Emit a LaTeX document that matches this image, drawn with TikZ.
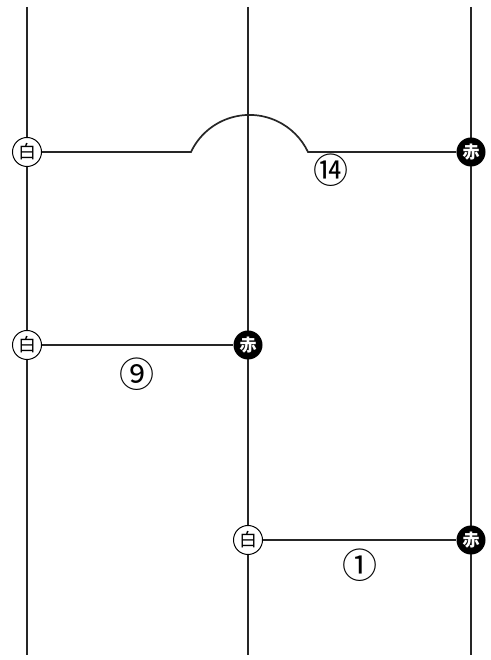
\documentclass[tikz,border=0pt]{standalone}
\usepackage{fontspec}
\newfontfamily\cjk{Noto Sans CJK JP}
\usetikzlibrary{calc}
\tikzset{
  wire/.style={line width=1.7pt,black!85},
  shiro/.style={circle,draw=black,line width=1pt,fill=white,inner sep=0pt,
    minimum size=29pt,font=\cjk\fontsize{18}{18}\selectfont},
  aka/.style={circle,fill=black,text=white,inner sep=0pt,
    minimum size=29pt,font=\cjk\bfseries\fontsize{17}{17}\selectfont},
  bango/.style={font=\cjk\fontsize{35}{35}\selectfont,inner sep=0pt}
}
\begin{document}
\begin{tikzpicture}[x=1pt,y=1pt]
        \useasboundingbox (0,0) rectangle (490,660);
        % vertical lines
        \coordinate (t1) at (27,653);  \coordinate (b1) at (27,5);
        \coordinate (t2) at (248,653); \coordinate (b2) at (248,5);
        \coordinate (t3) at (471,653); \coordinate (b3) at (471,5);
        \draw[wire] (t1) -- (b1);
        \draw[wire] (t2) -- (b2);
        \draw[wire] (t3) -- (b3);
        % rungs
        \coordinate (kl) at (191,508);
        \coordinate (kr) at (308,508);
        \node[shiro] (w1) at (27,508) {白};
        \node[aka] (r1) at (471,508) {赤};
        \node[shiro] (w2) at (27,315) {白};
        \node[aka] (r2) at (248,315) {赤};
        \node[shiro] (w3) at (248,120) {白};
        \node[aka] (r3) at (471,120) {赤};
        \draw[wire] (w1) -- (kl) arc[start angle=154.7,end angle=25.3,radius=64.7] -- (r1);
        \draw[wire] (w2) -- (r2);
        \draw[wire] (w3) -- (r3);
        % step numbers
        \node[bango] (n14) at (331,490) {⑭};
        \node[bango] (n9) at (137,286) {⑨};
        \node[bango] (n1) at (360,95) {①};
      \end{tikzpicture}
\end{document}
